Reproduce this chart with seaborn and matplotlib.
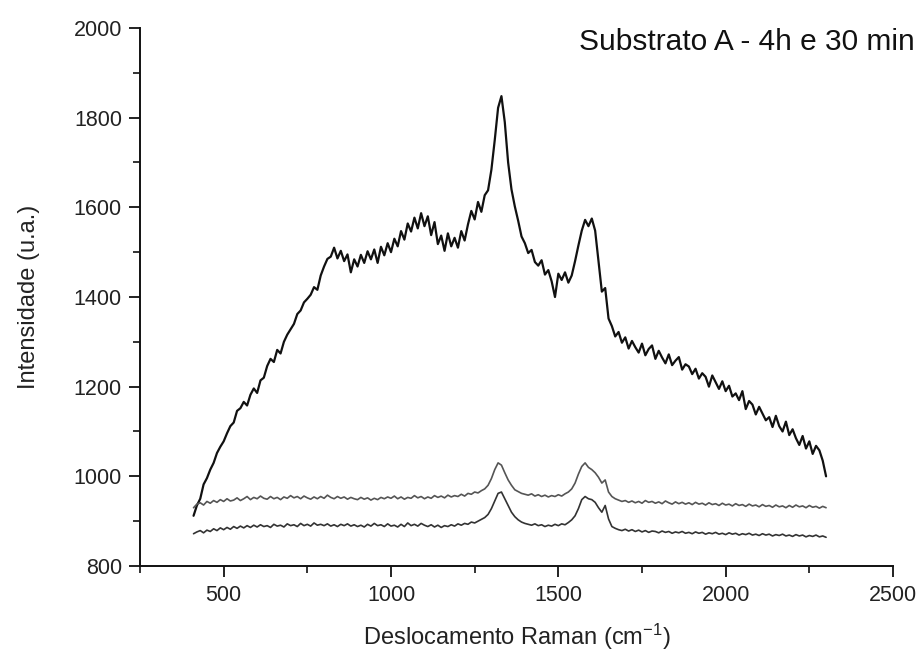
import numpy as np
import pandas as pd
import matplotlib
matplotlib.use("Agg")
import matplotlib.pyplot as plt
import seaborn as sns
from matplotlib.ticker import MultipleLocator

# Raman shift grid start / step (cm^-1)
x_start = 410
x_step = 10

# Intensities (one row = 100 cm^-1)
upper = [
    912, 935, 950, 982, 996, 1015, 1030, 1052, 1066, 1078,
    1096, 1112, 1120, 1146, 1152, 1166, 1158, 1182, 1196, 1186,
    1214, 1220, 1246, 1262, 1255, 1282, 1274, 1300, 1316, 1328,
    1340, 1362, 1370, 1388, 1396, 1405, 1422, 1416, 1448, 1468,
    1485, 1490, 1510, 1486, 1503, 1480, 1495, 1455, 1484, 1468,
    1494, 1476, 1502, 1484, 1506, 1476, 1512, 1493, 1520, 1500,
    1530, 1513, 1547, 1528, 1564, 1546, 1577, 1553, 1587, 1558,
    1580, 1538, 1567, 1518, 1537, 1503, 1542, 1513, 1532, 1510,
    1547, 1526, 1562, 1592, 1573, 1612, 1590, 1627, 1638, 1684,
    1750, 1822, 1848, 1790, 1700, 1640, 1602, 1570, 1535, 1520,
    1498, 1505, 1478, 1470, 1482, 1450, 1460, 1435, 1400, 1452,
    1438, 1455, 1432, 1448, 1480, 1515, 1548, 1572, 1558, 1575,
    1548, 1480, 1412, 1420, 1352, 1335, 1312, 1322, 1298, 1310,
    1285, 1302, 1288, 1276, 1296, 1270, 1284, 1292, 1262, 1280,
    1265, 1252, 1272, 1248, 1258, 1266, 1238, 1250, 1245, 1228,
    1240, 1218, 1230, 1222, 1200, 1225, 1210, 1195, 1212, 1190,
    1202, 1178, 1185, 1170, 1190, 1150, 1168, 1160, 1138, 1155,
    1140, 1125, 1132, 1110, 1135, 1112, 1100, 1122, 1092, 1105,
    1085, 1070, 1090, 1062, 1078, 1050, 1068, 1058, 1035, 1000,
]

middle = [
    930, 938, 941, 936, 944, 940, 946, 942, 948, 944,
    950, 945, 947, 952, 946, 950, 955, 948, 953, 950,
    956, 951, 949, 955, 950, 953, 948, 954, 951, 957,
    952, 955, 950, 956, 952, 949, 954, 950, 955, 951,
    958, 953, 950, 955, 951, 954, 949, 953, 950, 948,
    953, 949, 952, 947, 951, 948, 953, 950, 954, 951,
    956, 950, 954, 949, 953, 951, 957, 952, 955, 950,
    954, 951, 957, 953, 956, 952, 958, 954, 957, 955,
    960, 956, 962, 960, 965, 963, 968, 972, 980, 995,
    1015, 1030, 1025, 1008, 992, 980, 970, 966, 962, 960,
    958, 961, 956, 959, 955, 958, 954, 957, 955, 959,
    956, 961, 965, 972, 985, 1005, 1022, 1030, 1020, 1015,
    1008, 998, 985, 992, 965, 955, 950, 947, 944, 946,
    942, 945, 941, 944, 940, 946, 942, 944, 940, 943,
    939, 945, 941, 938, 943, 939, 942, 938, 941, 937,
    942, 938, 940, 936, 941, 937, 939, 935, 940, 936,
    938, 934, 939, 935, 937, 933, 938, 934, 936, 932,
    937, 933, 935, 931, 936, 932, 934, 930, 935, 931,
    936, 932, 934, 930, 935, 931, 933, 929, 933, 930,
]

lower = [
    872, 876, 879, 874, 880, 877, 883, 879, 885, 881,
    886, 882, 888, 884, 889, 885, 890, 886, 891, 887,
    892, 888, 890, 886, 893, 889, 891, 887, 894, 890,
    892, 888, 895, 890, 893, 889, 896, 891, 893, 890,
    894, 889, 892, 888, 893, 890, 894, 889, 892, 888,
    891, 887, 893, 889, 895, 890, 892, 888, 894, 889,
    891, 887, 893, 888, 896, 890, 893, 889, 895, 891,
    888, 892, 887, 891, 886, 890, 888, 892, 889, 894,
    891, 895, 893, 898, 896, 900, 904, 908, 915, 928,
    945, 962, 965, 950, 935, 920, 910, 903, 898, 895,
    893, 891, 894, 890, 892, 888, 891, 889, 893, 890,
    894, 892, 897, 903, 912, 928, 948, 955, 950, 948,
    942, 930, 920, 935, 905, 888, 884, 881, 879, 882,
    878, 881, 877, 880, 876, 879, 875, 878, 877, 874,
    878, 875, 877, 873, 876, 874, 877, 873, 875, 872,
    876, 873, 875, 871, 874, 872, 875, 871, 873, 870,
    874, 871, 873, 869, 872, 870, 873, 869, 871, 868,
    872, 869, 871, 867, 870, 868, 871, 867, 869, 866,
    870, 867, 869, 865, 868, 866, 869, 865, 867, 864,
]

series_names = ["upper", "middle", "lower"]
series_colors = {"upper": "#111111", "middle": "#555555", "lower": "#333333"}
series_widths = {"upper": 1.6, "middle": 1.2, "lower": 1.2}

frames = []
for name, vals in zip(series_names, [upper, middle, lower]):
    xs = x_start + x_step * np.arange(len(vals))
    frames.append(pd.DataFrame({"shift": xs, "intensity": vals, "serie": name}))
df = pd.concat(frames, ignore_index=True)

sns.set_style("ticks")
plt.rcParams["font.family"] = ["Liberation Sans", "DejaVu Sans"]
plt.rcParams["mathtext.default"] = "regular"

fig = plt.figure(figsize=(9.21, 6.57), dpi=100)
ax = fig.add_axes([140 / 921, 1 - 566 / 657, (893 - 140) / 921, (566 - 28) / 657])

for name in series_names:
    sub = df[df["serie"] == name]
    sns.lineplot(data=sub, x="shift", y="intensity", ax=ax,
                 color=series_colors[name], linewidth=series_widths[name],
                 estimator=None, sort=False)

ax.set_xlim(250, 2500)
ax.set_ylim(800, 2000)
ax.xaxis.set_major_locator(MultipleLocator(500))
ax.xaxis.set_minor_locator(MultipleLocator(250))
ax.yaxis.set_major_locator(MultipleLocator(200))
ax.yaxis.set_minor_locator(MultipleLocator(100))

for s in ["top", "right"]:
    ax.spines[s].set_visible(False)
for s in ["left", "bottom"]:
    ax.spines[s].set_linewidth(1.4)
    ax.spines[s].set_color("#111111")

ax.tick_params(axis="both", which="major", direction="out", length=8, width=1.3,
               labelsize=15.5, color="#111111", labelcolor="#222222")
ax.tick_params(axis="x", which="major", pad=6)
ax.tick_params(axis="y", which="major", pad=5)
ax.tick_params(axis="both", which="minor", direction="out", length=5, width=1.2,
               color="#111111")

ax.set_xlabel("Deslocamento Raman (cm$^{-1}$)", fontsize=17, color="#222222", labelpad=11)
ax.set_ylabel("Intensidade (u.a.)", fontsize=17, color="#222222", labelpad=24)

fig.text(915 / 921, 1 - 50 / 657, "Substrato A - 4h e 30 min", fontsize=21.5,
         color="#111111", va="baseline", ha="right")

fig.savefig("out.png", dpi=100)
